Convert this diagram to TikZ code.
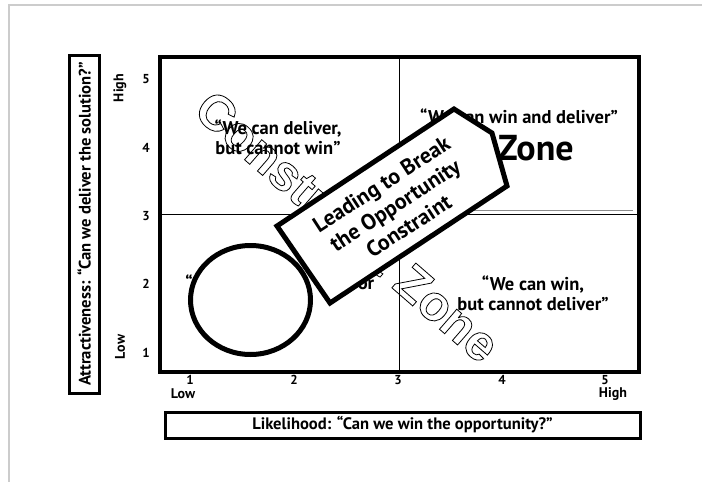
\documentclass[tikz,border=0pt]{standalone}
\usepackage{fontspec}
\setmainfont{PT Sans}
\newfontfamily\outlfont{Liberation Sans}
\newcommand\outlinetext[1]{\special{pdf:literal direct 1 Tr 0.8 w}#1\special{pdf:literal direct 0 Tr}}
\begin{document}
\begin{tikzpicture}[x=1pt,y=-1pt,
  quad/.style={font=\bfseries\fontsize{18.5}{20}\selectfont, align=center, inner sep=0pt},
  ticklab/.style={font=\bfseries\fontsize{13}{14}\selectfont, inner sep=0pt},
  lvl/.style={font=\bfseries\fontsize{14}{16}\selectfont, inner sep=0pt},
  axbox/.style={draw, line width=3pt},
  axtext/.style={font=\bfseries\fontsize{16.6}{18}\selectfont, inner sep=0pt},
  thin/.style={line width=0.8pt},
  heavy/.style={draw, fill=white, line width=5pt, line join=miter}
]
\fill[white] (0,0) rectangle (702,482);
\useasboundingbox (0,0) rectangle (702,482);
% page frame
\draw[black!20, line width=2pt] (9,482) -- (9,5) -- (702,5);

% quadrant texts
\node[quad] (q1) at (278,137) {“We can deliver,\\but cannot win”};
\node[quad] (q2) at (519,116) {“We can win and deliver”};
\node[font=\bfseries\fontsize{36}{40}\selectfont, inner sep=0pt] (zone) at (536,148) {Zone};
\node[quad] (q4) at (533,293) {“We can win,\\but cannot deliver”};
\node[quad, anchor=base] (q3a) at (189,289) {“};
\node[quad, anchor=base] (q3b) at (366,289) {or};

% midlines
\coordinate (vt) at (399,57); \coordinate (vb) at (399,372);
\coordinate (hl) at (160,214); \coordinate (hr) at (639,214);
\draw[thin] (vt) -- (vb);
\draw[thin] (hl) -- (hr);
\draw[black!45, line width=0.6pt] (466,210.5) -- (633,210.5);

% plot frame
\draw[line width=3.5pt] (160,57) rectangle (639,372);

% y ticks
\foreach \v/\y in {5/79,4/148,3/216,2/284,1/353}
  \node[ticklab] (y\v) at (146,\y) {\v};
\node[lvl, rotate=90] (yhigh) at (120,88) {High};
\node[lvl, rotate=90] (ylow) at (120,347) {Low};
% x ticks
\foreach \v/\x in {1/190,2/294,3/398,4/502,5/605}
  \node[ticklab] (x\v) at (\x,380) {\v};
\node[lvl] (xlow) at (183,394) {Low};
\node[lvl] (xhigh) at (613,394) {High};

% axis label boxes
\draw[axbox] (69,55) rectangle (99,393);
\node[axtext, rotate=90] (ylab) at (84,224) {Attractiveness: “Can we deliver the solution?”};
\draw[axbox] (165,412) rectangle (640,438);
\node[axtext] (xlab) at (402.5,425) {Likelihood: “Can we win the opportunity?”};

% outlined big text
\node[inner sep=0pt, rotate=-41, font=\outlfont\bfseries\fontsize{50}{60}\selectfont] (cz) at (348,226) {\outlinetext{Constraint Zone}};

% circle
\draw[heavy] (250.5,300) ellipse [x radius=60pt, y radius=54.5pt];

% arrow pentagon
\coordinate (pa) at (330,303);
\coordinate (pb) at (277,226);
\coordinate (pc) at (454,109);
\coordinate (pd) at (492,133);
\coordinate (pe) at (507,186);
\draw[heavy] (pa) -- (pb) -- (pc) -- (pd) -- (pe) -- cycle;
\node[rotate=33, align=center, inner sep=0pt, font=\bfseries\fontsize{22}{25}\selectfont] (lead) at (395,205) {Leading to Break\\the Opportunity\\Constraint};
\end{tikzpicture}
\end{document}
